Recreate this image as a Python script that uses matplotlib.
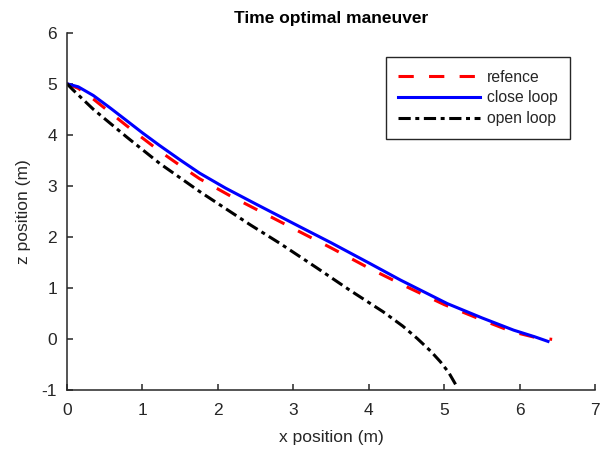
import matplotlib
matplotlib.use("Agg")
import matplotlib.pyplot as plt

# ---------------------------------------
# Trajectories
# ---------------------------------------

ref_x = [0.0, 0.15, 0.35, 0.57, 0.79, 1.0, 1.23, 1.5, 1.76, 2.16, 2.5, 3.09, 3.5, 4.02, 4.5, 5.0, 5.5, 5.9, 6.2, 6.43]
ref_z = [5.0, 4.91, 4.70, 4.44, 4.18, 3.94, 3.68, 3.40, 3.14, 2.81, 2.55, 2.10, 1.79, 1.38, 1.03, 0.68, 0.38, 0.15, 0.04, 0.0]

cl_x = [0.0, 0.15, 0.35, 0.57, 0.79, 1.0, 1.23, 1.5, 1.76, 2.1, 2.5, 3.09, 3.5, 4.02, 4.42, 5.04, 5.5, 5.92, 6.2, 6.375]
cl_z = [5.0, 4.94, 4.77, 4.53, 4.28, 4.04, 3.79, 3.51, 3.25, 2.96, 2.65, 2.20, 1.89, 1.48, 1.16, 0.70, 0.42, 0.18, 0.05, -0.04]

ol_x = [0.0, 0.08, 0.35, 0.79, 1.23, 1.76, 2.43, 2.82, 3.3, 3.75, 4.19, 4.45, 4.64, 4.82, 4.95, 5.06, 5.15]
ol_z = [5.0, 4.88, 4.50, 3.96, 3.44, 2.89, 2.24, 1.88, 1.41, 0.96, 0.54, 0.26, 0.02, -0.23, -0.44, -0.65, -0.88]

x_ticks = [0, 1, 2, 3, 4, 5, 6, 7]
z_ticks = [-1, 0, 1, 2, 3, 4, 5, 6]

plt.rcParams["font.family"] = ["Liberation Sans", "DejaVu Sans"]
plt.rcParams["axes.unicode_minus"] = False
ink = "#262626"

fig = plt.figure(figsize=(6.03, 4.53), dpi=100)
ax = fig.add_axes([0.111, 0.138, 0.876, 0.790])

ax.plot(ref_x, ref_z, color="red", lw=2.2, linestyle=(0, (5, 5)), label="refence")
ax.plot(cl_x, cl_z, color="blue", lw=2.2, label="close loop")
ax.plot(ol_x, ol_z, color="black", lw=2.2, linestyle=(0, (4, 1.5, 1.3, 1.5)), label="open loop")

ax.set_xlim(0, 7)
ax.set_ylim(-1, 6)
ax.set_xticks(x_ticks)
ax.set_yticks(z_ticks)

for side in ["top", "right"]:
    ax.spines[side].set_visible(False)
for side in ["left", "bottom"]:
    ax.spines[side].set_linewidth(1.1)
    ax.spines[side].set_color(ink)

ax.tick_params(direction="in", length=4, width=1.1, colors=ink, labelsize=12.5, pad=7)
ax.tick_params(axis="x", pad=9)
ax.set_xlabel("x position (m)", fontsize=12.5, color=ink, labelpad=9)
ax.set_ylabel("z position (m)", fontsize=12.5, color=ink, labelpad=8)
ax.set_title("Time optimal maneuver", fontsize=12.5, fontweight="bold", pad=7)

leg = ax.legend(loc="upper right", bbox_to_anchor=(0.953, 0.932), borderaxespad=0,
                fontsize=11.3, handlelength=5.2, handletextpad=0.45, borderpad=0.8,
                labelspacing=0.38, fancybox=False, framealpha=1)
leg.get_frame().set_edgecolor(ink)
leg.get_frame().set_linewidth(1.0)
for t in leg.get_texts():
    t.set_color(ink)

plt.savefig("out.png", dpi=100)
plt.close()
